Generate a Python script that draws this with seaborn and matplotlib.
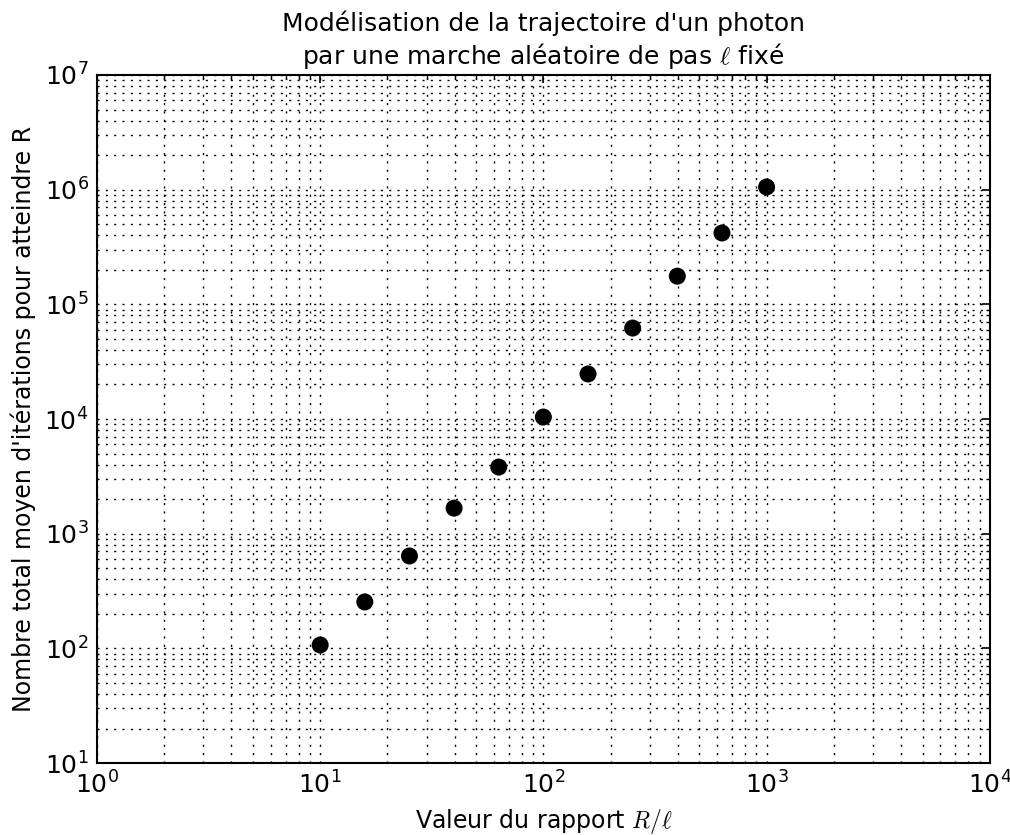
import seaborn as sns
import matplotlib.pyplot as plt
import pandas as pd

# rapport R/l et nombre moyen d'iterations
rapport = [10, 15.85, 25.12, 39.81, 63.1, 100, 158.5, 251.2, 398.1, 631, 1000]
iterations = [107, 254, 639, 1670, 3810, 10400, 24700, 62100, 176000, 419000, 1055000]

df = pd.DataFrame({'rapport': rapport, 'iterations': iterations})

sns.set_style('white')
plt.rcParams['font.family'] = ['DejaVu Sans']
plt.rcParams['mathtext.fontset'] = 'cm'
plt.rcParams['text.color'] = 'black'
plt.rcParams['axes.labelcolor'] = 'black'

fig = plt.figure(figsize=(10.1, 8.35), dpi=100)
ax = fig.add_axes([0.096, 0.0862, 0.884, 0.8240])

sns.scatterplot(data=df, x='rapport', y='iterations', ax=ax, color='black',
                s=150, edgecolor='none', zorder=3)

ax.set_xscale('log')
ax.set_yscale('log')
ax.set_xlim(1, 1e4)
ax.set_ylim(10, 1e7)

ax.grid(True, which='both', color='black', linestyle=(0, (1.5, 4.5)), linewidth=1)
for sp in ax.spines.values():
    sp.set_linewidth(1.5)
    sp.set_color('black')

ax.tick_params(which='both', direction='in', top=True, right=True, colors='black')
ax.tick_params(which='major', length=6, width=1.2, labelsize=18, pad=6)
ax.tick_params(which='minor', length=3, width=1)

ax.set_title("Modélisation de la trajectoire d'un photon\npar une marche aléatoire de pas $\\ell$ fixé",
             fontsize=18, pad=8, color='black')
ax.set_xlabel('Valeur du rapport $R/\\ell$', fontsize=17, labelpad=6)
ax.set_ylabel("Nombre total moyen d'itérations pour atteindre R", fontsize=17, labelpad=6)

fig.savefig('out.png', dpi=100)
